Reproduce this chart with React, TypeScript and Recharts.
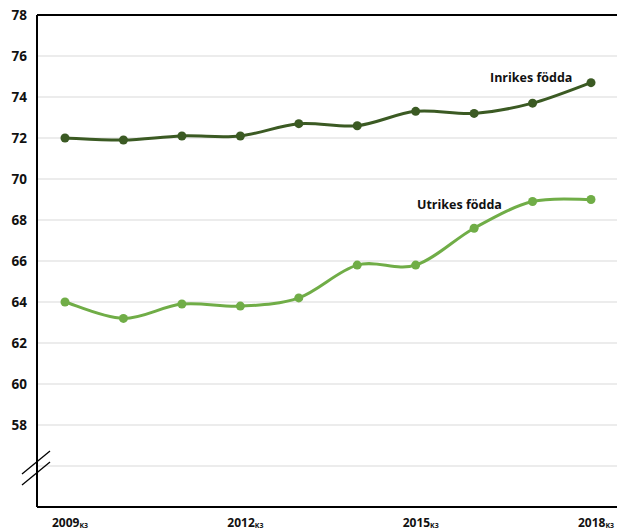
import { LineChart, Line, XAxis, YAxis, CartesianGrid, ReferenceLine } from 'recharts'

const years = ['2009', '2010', '2011', '2012', '2013', '2014', '2015', '2016', '2017', '2018']
const inrikes = [72.0, 71.9, 72.1, 72.1, 72.7, 72.6, 73.3, 73.2, 73.7, 74.7]
const utrikes = [64.0, 63.2, 63.9, 63.8, 64.2, 65.8, 65.8, 67.6, 68.9, 69.0]
const yTicks = [54, 56, 58, 60, 62, 64, 66, 68, 70, 72, 74, 76, 78]

const DARK = '#3b5a23'
const LIGHT = '#70ad47'
const FONT = '"Open Sans", "Noto Sans", sans-serif'

const data = years.map((year, i) => ({ year, inrikes: inrikes[i], utrikes: utrikes[i] }))

// Excel-like smoothed line (Catmull-Rom through every point)
const smoothCurve = (ctx: any) => {
    let pts: [number, number][] = []
    return {
        areaStart() {},
        areaEnd() {},
        lineStart() {
            pts = []
        },
        lineEnd() {
            if (!pts.length) return
            ctx.moveTo(pts[0][0], pts[0][1])
            for (let i = 0; i < pts.length - 1; i++) {
                const p0 = pts[Math.max(i - 1, 0)]
                const p1 = pts[i]
                const p2 = pts[i + 1]
                const p3 = pts[Math.min(i + 2, pts.length - 1)]
                ctx.bezierCurveTo(
                    p1[0] + (p2[0] - p0[0]) / 6,
                    p1[1] + (p2[1] - p0[1]) / 6,
                    p2[0] - (p3[0] - p1[0]) / 6,
                    p2[1] - (p3[1] - p1[1]) / 6,
                    p2[0],
                    p2[1]
                )
            }
        },
        point(x: number, y: number) {
            pts.push([+x, +y])
        },
    }
}

function YearTick({ x, y, payload }: any) {
    return (
        <text x={x - 13} y={y + 12} fontFamily={FONT} fontWeight={700} fontSize={12} fill="#111">
            <tspan>{payload.value}</tspan>
            <tspan fontSize={7} dy={1}>K3</tspan>
        </text>
    )
}

function ValueTick({ x, y, payload }: any) {
    if (payload.value < 58) return null
    return (
        <text x={x} y={y} dy={5} textAnchor="end" fontFamily={FONT} fontWeight={700} fontSize={13.5} fill="#111">
            {payload.value}
        </text>
    )
}

export default function App() {
    return (
        <div style={{ position: 'absolute', left: 0, top: 0, width: 617, height: 532, background: '#fff' }}>
            <LineChart width={617} height={532} data={data} margin={{ top: 15, right: 0, bottom: 0, left: 0 }}>
                <CartesianGrid vertical={false} stroke="#d9d9d9" />
                <XAxis
                    dataKey="year"
                    interval={2}
                    padding={{ left: 28, right: 26 }}
                    height={25}
                    tickLine={false}
                    axisLine={{ stroke: '#000', strokeWidth: 2 }}
                    tick={<YearTick />}
                />
                <YAxis
                    type="number"
                    domain={[54, 78]}
                    ticks={yTicks}
                    interval={0}
                    width={37}
                    tickLine={false}
                    tickSize={0}
                    tickMargin={10}
                    axisLine={{ stroke: '#000', strokeWidth: 2 }}
                    tick={<ValueTick />}
                />
                <ReferenceLine y={78} stroke="#000" strokeWidth={2} />
                <Line
                    dataKey="inrikes"
                    type={smoothCurve as any}
                    stroke={DARK}
                    strokeWidth={3}
                    dot={{ r: 4.5, fill: DARK, stroke: DARK, strokeWidth: 0 }}
                    isAnimationActive={false}
                />
                <Line
                    dataKey="utrikes"
                    type={smoothCurve as any}
                    stroke={LIGHT}
                    strokeWidth={3}
                    dot={{ r: 4.5, fill: LIGHT, stroke: LIGHT, strokeWidth: 0 }}
                    isAnimationActive={false}
                />
            </LineChart>
            {/* axis break marks and series labels */}
            <svg width={617} height={532} style={{ position: 'absolute', left: 0, top: 0, pointerEvents: 'none' }}>
                <line x1={22} y1={474} x2={50} y2={451} stroke="#000" strokeWidth={1.3} />
                <line x1={22} y1={485} x2={50} y2={462} stroke="#000" strokeWidth={1.3} />
                <text x={490} y={82} fontFamily={FONT} fontWeight={700} fontSize={12.5} fill="#111">
                    Inrikes födda
                </text>
                <text x={417} y={209} fontFamily={FONT} fontWeight={700} fontSize={12.5} fill="#111">
                    Utrikes födda
                </text>
            </svg>
        </div>
    )
}
